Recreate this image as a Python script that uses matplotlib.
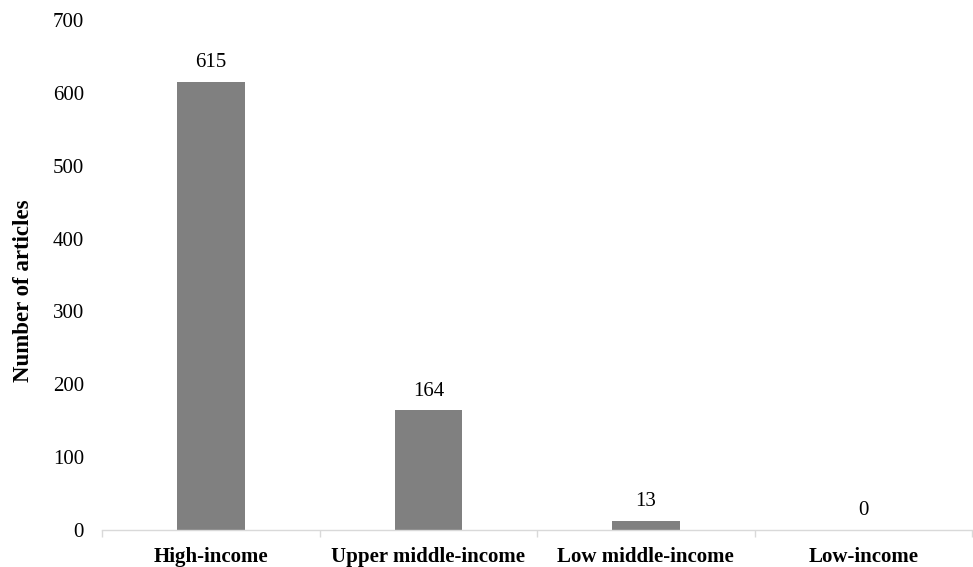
import matplotlib
matplotlib.use("Agg")
import matplotlib.pyplot as plt

categories = ["High-income", "Upper middle-income", "Low middle-income", "Low-income"]
values = [615, 164, 13, 0]

plt.rcParams['font.family'] = ['Liberation Serif', 'DejaVu Serif']

fig = plt.figure(figsize=(9.73, 5.67), dpi=100)
ax = fig.add_axes([0.105, 0.0653, 0.894, 0.8994])

x = list(range(len(categories)))
bars = ax.bar(x, values, width=0.31, color="#808080")
ax.set_xlim(-0.5, len(categories) - 0.5)
ax.set_ylim(0, 700)
ax.set_yticks(range(0, 701, 100))
ax.tick_params(axis='y', length=0, labelsize=15, pad=13)

ax.set_xticks(x)
ax.set_xticklabels(categories, fontsize=15, fontweight='bold')
ax.tick_params(axis='x', length=0, pad=12)
ax.set_xticks([i - 0.5 for i in range(len(categories) + 1)], minor=True)
ax.tick_params(axis='x', which='minor', length=5, color="#d9d9d9", width=1)

for s in ['top', 'right', 'left']:
    ax.spines[s].set_visible(False)
ax.spines['bottom'].set_color("#d9d9d9")
ax.spines['bottom'].set_linewidth(1)

for xi, v in zip(x, values):
    ax.annotate(str(v), (xi, v), xytext=(0, 7), textcoords='offset points',
                ha='center', va='bottom', fontsize=15)

ax.set_ylabel("Number of articles", fontsize=16.5, fontweight='bold')
ax.yaxis.set_label_coords(-0.078, 0.469)
fig.savefig("out.png", dpi=100)
